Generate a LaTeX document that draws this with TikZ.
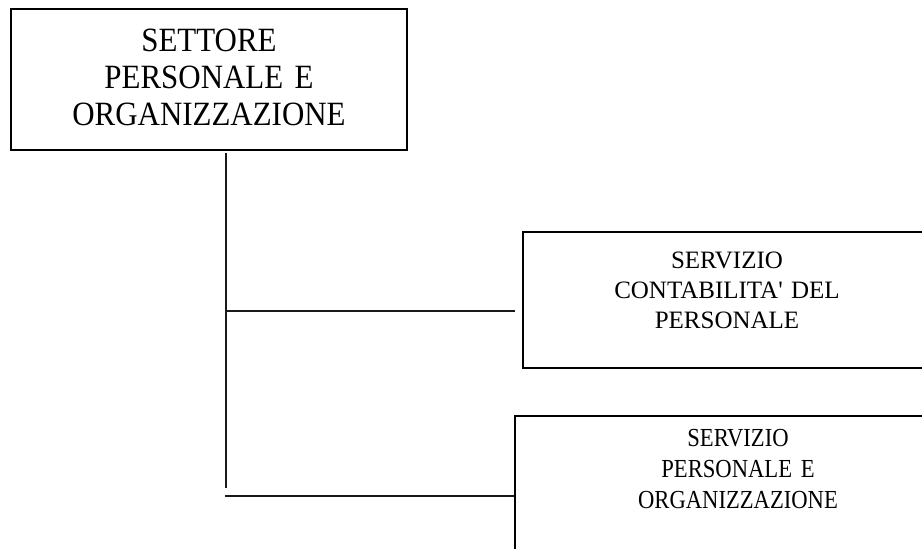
\documentclass[tikz,border=0pt]{standalone}
\usepackage{fontspec}
\setmainfont{Liberation Serif}[Ligatures=TeXOff]
\newfontfamily\largo{Liberation Serif}[Ligatures=TeXOff, FakeStretch=0.91]
\newfontfamily\stretto{Liberation Serif}[Ligatures=TeXOff, FakeStretch=0.87]
\tikzset{
  ufficio/.style={draw, line width=2pt, anchor=north west, inner sep=0pt, align=center},
  filo/.style={line width=1.3pt, black!90}
}
\begin{document}
\begin{tikzpicture}[x=1pt,y=-1pt]
\useasboundingbox (0,0) rectangle (922,549);
\clip (0,0) rectangle (922,549);
% boxes
\node[ufficio, text width=396pt, text height=42pt, text depth=99pt,
      font=\largo\fontsize{34}{37}\selectfont] (settore) at (10,8)
      {SETTORE\\PERSONALE E\\ORGANIZZAZIONE};
\node[ufficio, text width=408pt, text height=36pt, text depth=100pt,
      font=\fontsize{25}{30}\selectfont] (contab) at (522,231)
      {SERVIZIO\\CONTABILITA' DEL\\PERSONALE};
\node[ufficio, text width=446pt, text height=30pt, text depth=160pt,
      font=\stretto\fontsize{26}{31}\selectfont] (pers) at (514,415)
      {SERVIZIO\\PERSONALE E\\ORGANIZZAZIONE};
% connectors
\coordinate (fine) at (226,488);
\coordinate (nodo1) at (226,311);
\coordinate (nodo2) at (225,496);
\draw[filo] ([yshift=-2pt]settore.south -| fine) -- (fine);
\draw[filo] (nodo1) -- ([xshift=-7pt]nodo1 -| contab.west);
\draw[filo] (nodo2) -- (nodo2 -| pers.west);
\end{tikzpicture}
\end{document}
